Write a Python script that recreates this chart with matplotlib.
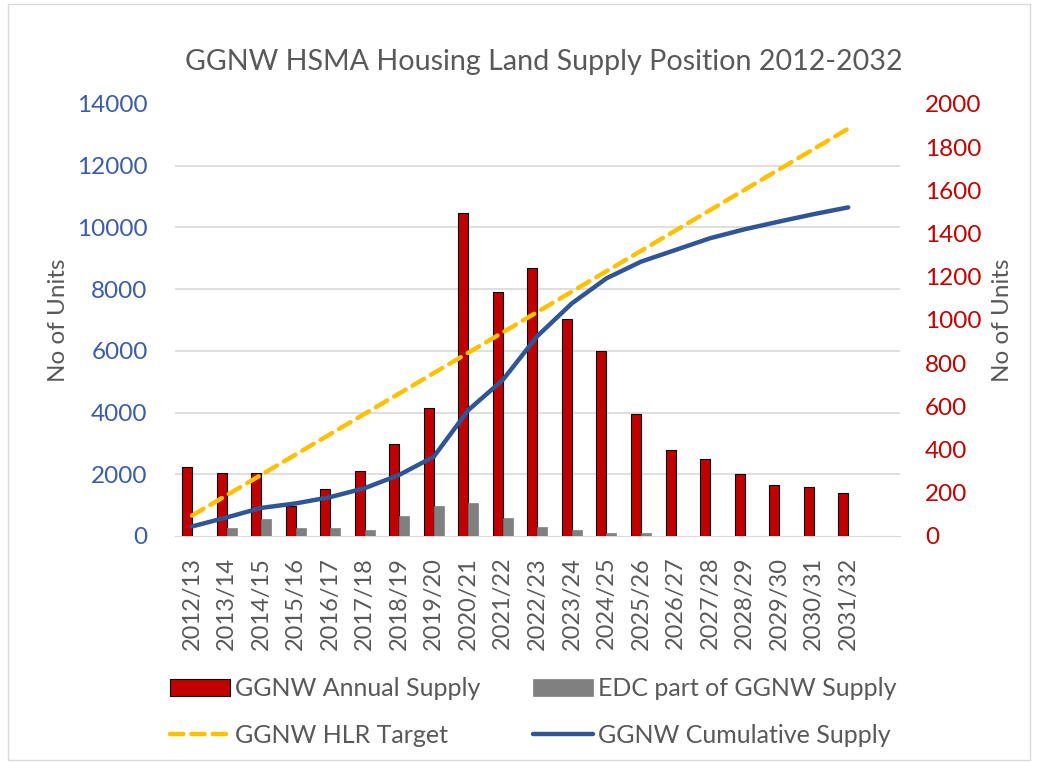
import matplotlib
matplotlib.use("Agg")
import matplotlib.pyplot as plt
from matplotlib.ticker import MultipleLocator, FixedLocator
from matplotlib.patches import Rectangle
import numpy as np

plt.rcParams['font.family'] = ['Lato', 'DejaVu Sans']

years = ["2012/13", "2013/14", "2014/15", "2015/16", "2016/17", "2017/18", "2018/19",
         "2019/20", "2020/21", "2021/22", "2022/23", "2023/24", "2024/25", "2025/26",
         "2026/27", "2027/28", "2028/29", "2029/30", "2030/31", "2031/32", ""]
annual_supply = [321, 293, 293, 140, 216, 301, 426, 593, 1494, 1131, 1242, 1005,
                 858, 565, 398, 356, 286, 236, 228, 201]
edc_supply = [0, 36, 77, 36, 36, 28, 93, 140, 154, 85, 43, 28, 15, 15,
              0, 0, 0, 0, 0, 0]
hlr_target = [660, 1320, 1980, 2640, 3300, 3960, 4620, 5280, 5940, 6600, 7260,
              7920, 8580, 9240, 9900, 10560, 11220, 11880, 12540, 13200]
cumulative_supply = [310, 600, 910, 1055, 1260, 1550, 1980, 2570, 4080, 5060, 6480,
                     7540, 8350, 8890, 9270, 9650, 9940, 10190, 10430, 10650]

TEXT = "#595959"
FS = 17.5
fig = plt.figure(figsize=(10.37, 7.62), dpi=100)
fig.patches.append(Rectangle((8/1037, 2/762), 1022/1037, 756/762, transform=fig.transFigure,
                             fill=False, edgecolor="#D9D9D9", lw=1))

ax = fig.add_axes([174.75/1037, 1 - 536/762, 725.25/1037, 432/762])
ax2 = ax.twinx()

n = len(annual_supply)
x = np.arange(n)
w = 0.29
b1 = ax.bar(x - w/2, annual_supply, width=w, color="#C00000", edgecolor="black",
            linewidth=0.8, label="GGNW Annual Supply", zorder=3)
b2 = ax.bar(x + w/2, edc_supply, width=w, color="#808080", edgecolor="#808080",
            linewidth=0.5, label="EDC part of GGNW Supply", zorder=3)

l1, = ax2.plot(x, hlr_target, color="#FFC000", lw=3.2, ls=(0, (3, 1.8)),
               label="GGNW HLR Target", dash_capstyle="round")
l2, = ax2.plot(x, cumulative_supply, color="#2F5597", lw=3.2,
               label="GGNW Cumulative Supply", solid_capstyle="round")

ax.set_xlim(-0.5, len(years) - 0.5)
ax.set_ylim(0, 2000)
ax2.set_ylim(0, 14000)

# bars axis: ticks on right
ax.yaxis.tick_right()
ax.yaxis.set_label_position("right")
ax.yaxis.set_major_locator(MultipleLocator(200))
ax.yaxis.set_minor_locator(FixedLocator(np.arange(0, 2001, 2000/7)))
ax.grid(which="minor", axis="y", color="#D9D9D9", lw=1.2, zorder=0)
ax.tick_params(axis="y", which="both", length=0, labelcolor="#C00000", labelsize=FS, pad=18)
ax.set_ylabel("No of Units", color=TEXT, fontsize=FS)
ax.yaxis.set_label_coords(1.127, 0.5)

ax2.yaxis.tick_left()
ax2.yaxis.set_label_position("left")
ax2.yaxis.set_major_locator(MultipleLocator(2000))
ax2.tick_params(axis="y", length=0, labelcolor="#3B5CA8", labelsize=FS, pad=19.5)
ax2.set_ylabel("No of Units", color=TEXT, fontsize=FS)
ax2.yaxis.set_label_coords(-0.146, 0.5)

ax.set_xticks(np.arange(len(years)))
ax.set_xticklabels(years, rotation=90, color=TEXT, fontsize=17)
ax.tick_params(axis="x", length=0, pad=15)

for a in (ax, ax2):
    for s in ("top", "left", "right"):
        a.spines[s].set_visible(False)
ax.spines["bottom"].set_color("#D9D9D9")
ax2.spines["bottom"].set_visible(False)

fig.text(544/1037, 1 - 62/762, "GGNW HSMA Housing Land Supply Position 2012-2032",
         ha="center", va="center", fontsize=20.6, color=TEXT)

leg = fig.legend([b1, l1, b2, l2],
                 ["GGNW Annual Supply", "GGNW HLR Target", "EDC part of GGNW Supply",
                  "GGNW Cumulative Supply"],
                 ncol=2, loc="center", bbox_to_anchor=(533/1037, 1 - 712/762),
                 frameon=False, fontsize=18, handlelength=2.4, handletextpad=0.2,
                 columnspacing=2.1, labelspacing=0.95)
for t in leg.get_texts():
    t.set_color(TEXT)

fig.savefig("out.png", dpi=100)
